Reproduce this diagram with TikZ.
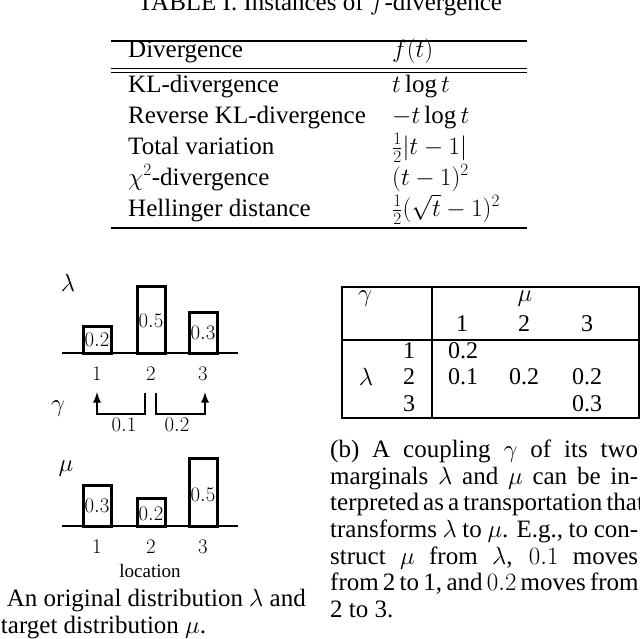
\documentclass[tikz,border=0pt]{standalone}
\usepackage{fontspec}
\setmainfont{Liberation Serif}
\begin{document}
\begin{tikzpicture}[x=1pt,y=-1pt,
  txt/.style={font=\fontsize{24}{28}\selectfont, inner sep=0pt},
  ttx/.style={font=\fontsize{25}{28}\selectfont, inner sep=0pt, anchor=base west},
  num/.style={font=\fontsize{22.5}{24}\selectfont, inner sep=0pt},
  bar/.style={draw, line width=3pt},
  axis/.style={line width=1.8pt},
  rule/.style={line width=1.8pt},
  flow/.style={line width=2.6pt,-latex}]
\useasboundingbox (0,0) rectangle (640,638);
\clip (0,0) rectangle (640,638);
% Table I
\node[ttx,anchor=base] (title) at (320,10) {TABLE I. Instances of $f$-divergence};
\draw[rule] (111,41) -- (527,41);
\draw[line width=1pt] (111,68) -- (527,68);
\draw[line width=1pt] (111,72.5) -- (527,72.5);
\draw[rule] (111,228) -- (527,228);
\node[ttx] (h1) at (128,57) {Divergence};
\node[ttx] (h2) at (392,57) {$f(t)$};
\node[ttx] (r1) at (128,92) {KL-divergence};
\node[ttx] (f1) at (392,92) {$t\log t$};
\node[ttx] (r2) at (128,123) {Reverse KL-divergence};
\node[ttx] (f2) at (392,123) {$-t\log t$};
\node[ttx] (r3) at (128,154) {Total variation};
\node[ttx] (f3) at (392,154) {$\frac{1}{2}|t-1|$};
\node[ttx] (r4) at (128,185) {$\chi^2$-divergence};
\node[ttx] (f4) at (392,185) {$(t-1)^2$};
\node[ttx] (r5) at (128,216) {Hellinger distance};
\node[ttx] (f5) at (392,216) {$\frac{1}{2}(\sqrt{t}-1)^2$};
% lambda distribution
\node[txt] (lam) at (68,283) {$\lambda$};
\draw[axis] (62,353) -- (238,353);
\draw[bar] (83,353) rectangle (111,326);
\draw[bar] (137,353) rectangle (165,286);
\draw[bar] (189,353) rectangle (217,312);
\node[num] (l1) at (97,340) {$0.2$};
\node[num] (l2) at (151,321) {$0.5$};
\node[num] (l3) at (203,333) {$0.3$};
\node[num] (x1) at (97,374) {$1$};
\node[num] (x2) at (151,374) {$2$};
\node[num] (x3) at (203,374) {$3$};
% gamma flows
\node[txt] (gam) at (58,409) {$\gamma$};
\coordinate (s1) at (145,393);
\coordinate (s2) at (156,393);
\coordinate (t1) at (97,392);
\coordinate (t2) at (205,392);
\draw[flow] (s1) -- (145,414) -- (97,414) -- (t1);
\draw[flow] (s2) -- (156,414) -- (205,414) -- (t2);
\node[num] (g1) at (124,425) {$0.1$};
\node[num] (g2) at (177,425) {$0.2$};
% mu distribution
\node[txt] (mu) at (66,469) {$\mu$};
\draw[axis] (62,526) -- (238,526);
\draw[bar] (83,526) rectangle (111,485);
\draw[bar] (137,526) rectangle (165,498);
\draw[bar] (189,526) rectangle (217,458);
\node[num] (m1) at (97,506) {$0.3$};
\node[num] (m2) at (151,514) {$0.2$};
\node[num] (m3) at (203,495) {$0.5$};
\node[num] (y1) at (97,547) {$1$};
\node[num] (y2) at (151,547) {$2$};
\node[num] (y3) at (203,547) {$3$};
\node[inner sep=0pt,font=\fontsize{19}{22}\selectfont] (loc) at (150,571) {location};
% caption a
\node[ttx,anchor=base east] (ca1) at (306,606) {(a) An original distribution $\lambda$ and};
\node[ttx] (ca2) at (-36,633) {the target distribution $\mu$.};
% coupling table
\draw[line width=1.4pt] (342,287) rectangle (639,418);
\draw[line width=1.4pt] (432,287) -- (432,418);
\draw[line width=1.4pt] (342,340) -- (639,340);
\node[txt] (cg) at (365,299) {$\gamma$};
\node[txt] (cm) at (525,299) {$\mu$};
\node[txt] (c1) at (462,324) {1};
\node[txt] (c2) at (524,324) {2};
\node[txt] (c3) at (587,324) {3};
\node[txt] (rl) at (366,377) {$\lambda$};
\node[txt] (q1) at (409,351) {1};
\node[txt] (q2) at (409,377) {2};
\node[txt] (q3) at (409,404) {3};
\node[txt] (v11) at (463,351) {0.2};
\node[txt] (v21) at (463,377) {0.1};
\node[txt] (v22) at (524,377) {0.2};
\node[txt] (v23) at (587,377) {0.2};
\node[txt] (v33) at (587,404) {0.3};
% caption b
\node[ttx] (cb1) at (330,457) {\makebox[308pt][s]{(b) A coupling $\gamma$ of its two}};
\node[ttx] (cb2) at (330,484) {\makebox[308pt][s]{marginals $\lambda$ and $\mu$ can be in-}};
\node[ttx] (cb3) at (330,510) {\makebox[308pt][s]{terpreted as a transportation that}};
\node[ttx] (cb4) at (330,537) {\makebox[308pt][s]{transforms $\lambda$ to $\mu$. E.g., to con-}};
\node[ttx] (cb5) at (330,564) {\makebox[308pt][s]{struct $\mu$ from $\lambda$, $0.1$ moves}};
\node[ttx] (cb6) at (330,590) {\makebox[308pt][s]{from 2 to 1, and $0.2$ moves from}};
\node[ttx] (cb7) at (330,617) {2 to 3.};
\end{tikzpicture}
\end{document}
